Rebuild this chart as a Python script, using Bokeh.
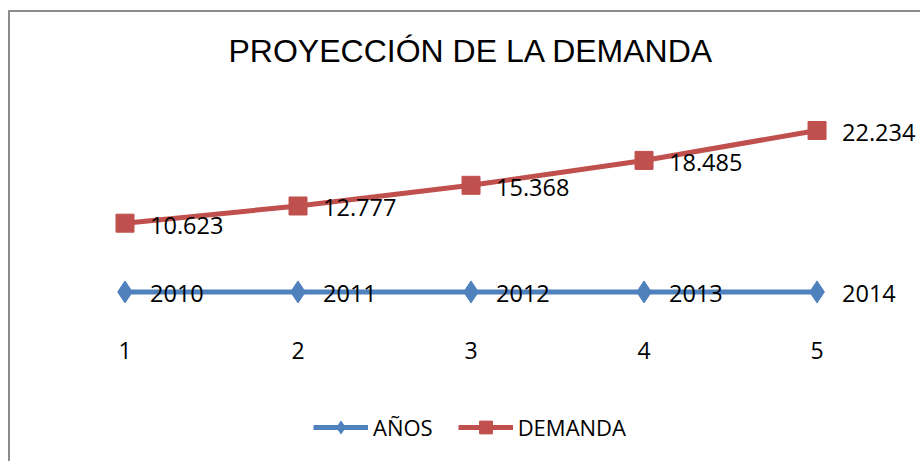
from bokeh.plotting import figure
from bokeh.models import Range1d, Legend, LegendItem, ColumnDataSource, FixedTicker
from bokeh.core.properties import value
from bokeh.embed import file_html
from bokeh.resources import INLINE

# ---- data ----
x_cats = [1, 2, 3, 4, 5]
anos = [2010, 2011, 2012, 2013, 2014]
demanda = [10623, 12777, 15368, 18485, 22234]
tick_labels = ["1", "2", "3", "4", "5"]
title_text = "PROYECCIÓN DE LA DEMANDA"
series_names = ["AÑOS", "DEMANDA"]

def es_fmt(v):
    return f"{v:,}".replace(",", ".")

BLUE = "#4f81bd"
RED = "#c0504d"
FONT = "Open Sans"

src_a = ColumnDataSource(dict(x=x_cats, y=anos, lab=[str(v) for v in anos]))
src_d = ColumnDataSource(dict(x=x_cats, y=demanda, lab=[es_fmt(v) for v in demanda]))

p = figure(width=920, height=461, output_backend="svg", toolbar_location=None,
           x_range=Range1d(0.5, 5.598), y_range=Range1d(-19226, 28494),
           min_border_left=38, min_border_right=0, min_border_top=80, min_border_bottom=0,
           title=title_text)
p.border_fill_color = None
p.background_fill_color = None
p.styles = {
    "background-image": "linear-gradient(#8c8c8c, #8c8c8c), linear-gradient(#8c8c8c, #8c8c8c)",
    "background-size": "2px 460px, 920px 2px",
    "background-position": "8px 10px, 8px 10px",
    "background-repeat": "no-repeat",
    "background-color": "#ffffff",
}

p.title.align = "left"
p.title.offset = 190
p.title.text_font = "Liberation Sans"
p.title.text_font_size = "32px"
p.title.text_font_style = "normal"
p.title.text_color = "#000000"
p.title.standoff = 23

p.outline_line_color = None
p.xgrid.visible = False
p.ygrid.visible = False
p.yaxis.visible = False
p.xaxis.fixed_location = -2943
p.xaxis.axis_line_color = None
p.xaxis.major_tick_line_color = None
p.xaxis.minor_tick_line_color = None
p.xaxis.ticker = FixedTicker(ticks=x_cats)
p.xaxis.major_label_overrides = {c: t for c, t in zip(x_cats, tick_labels)}
p.xaxis.major_label_text_font = FONT
p.xaxis.major_label_text_font_size = "23px"
p.xaxis.major_label_text_color = "#000000"
p.xaxis.major_label_standoff = 5

la = p.line("x", "y", source=src_a, line_color=BLUE, line_width=5)
ma = p.scatter("x", "y", source=src_a, marker="diamond", size=22,
               fill_color=BLUE, line_color=BLUE)
ld = p.line("x", "y", source=src_d, line_color=RED, line_width=5)
md = p.scatter("x", "y", source=src_d, marker="square", size=18,
               fill_color=RED, line_color=RED)

for s in (src_a, src_d):
    p.text("x", "y", text="lab", source=s, x_offset=25, y_offset=2,
           text_font=value(FONT), text_font_size="23.5px", text_color="#000000",
           text_baseline="middle", text_align="left")

legend = Legend(items=[LegendItem(label=series_names[0], renderers=[la, ma]),
                       LegendItem(label=series_names[1], renderers=[ld, md])],
                orientation="horizontal", location=(275, 18),
                glyph_width=55, glyph_height=32, label_standoff=5, spacing=25,
                padding=0, margin=0, border_line_color=None,
                background_fill_alpha=0,
                label_text_font=FONT, label_text_font_size="22px",
                label_text_color="#000000")
p.add_layout(legend, "center")

open("out.html", "w").write(file_html(p, INLINE))
